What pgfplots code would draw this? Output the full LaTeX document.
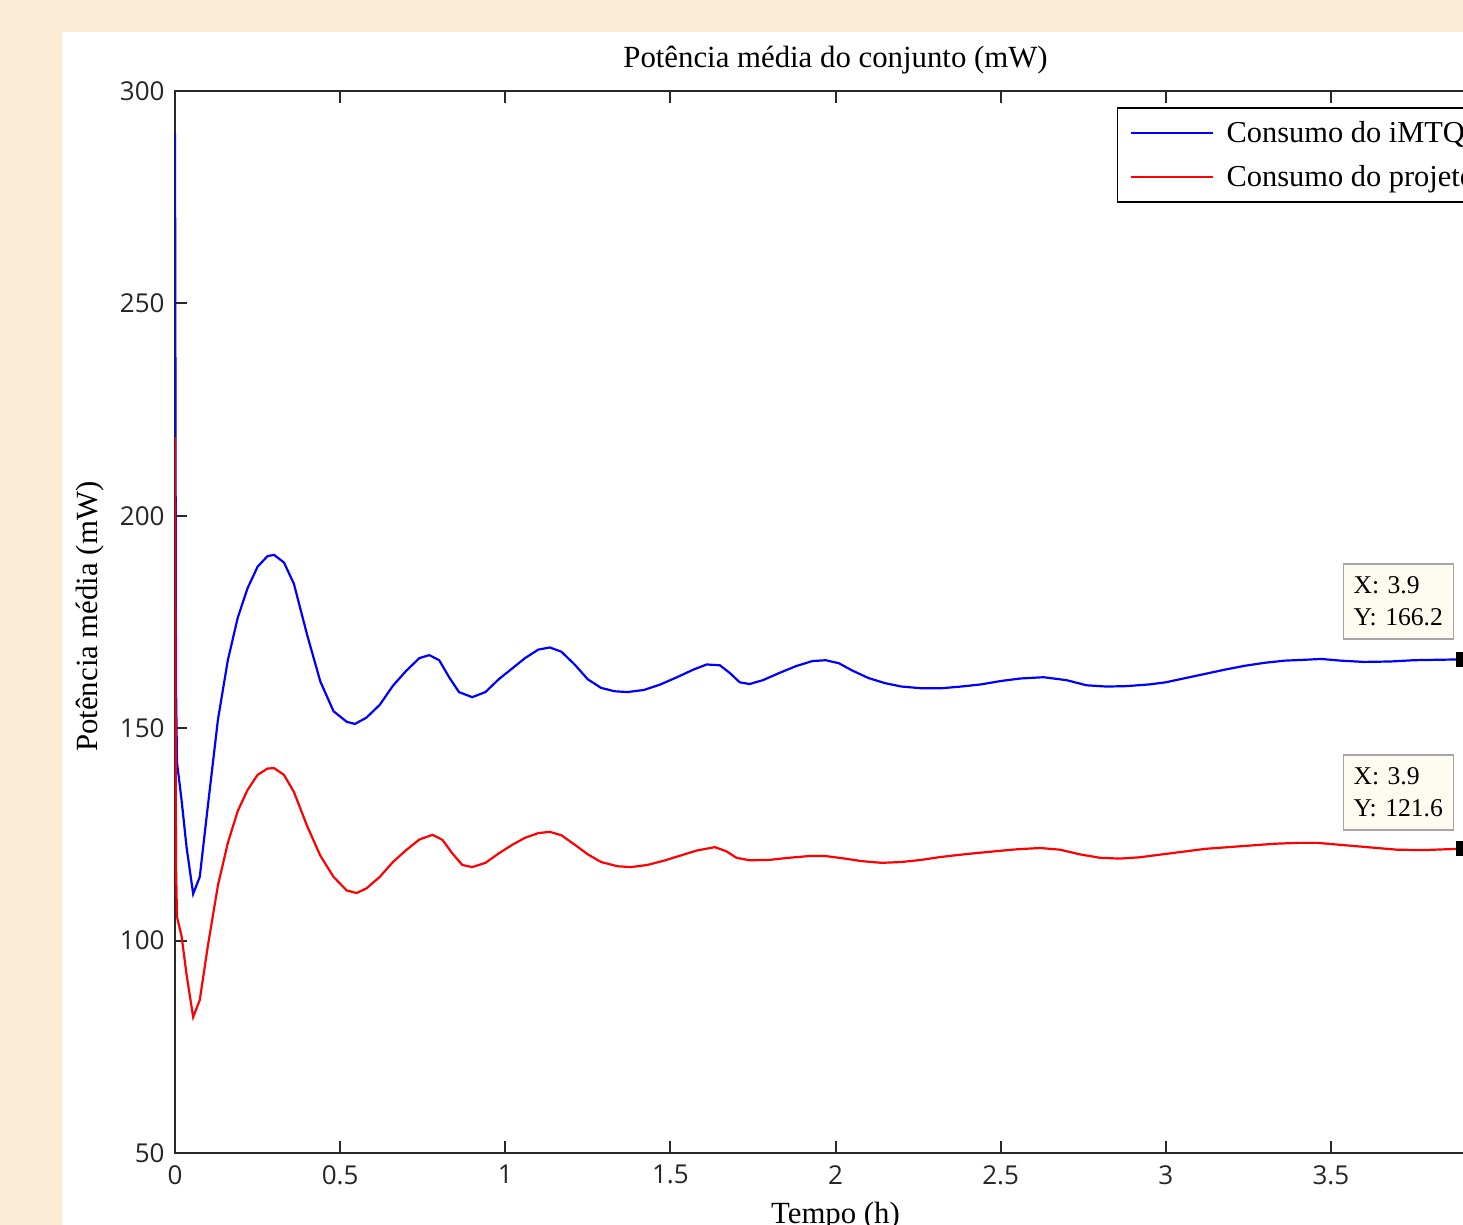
\documentclass[border=0pt]{standalone}
\usepackage{fontspec}
\setmainfont{Liberation Serif}
\newfontfamily\tickfont{Open Sans}
\usepackage{pgfplots}
\pgfplotsset{compat=1.18}
\definecolor{bgpeach}{RGB}{253,236,213}
\definecolor{tipfill}{RGB}{253,251,240}
\definecolor{axgray}{RGB}{40,40,40}
\begin{document}
\begin{tikzpicture}
\useasboundingbox (-87.5pt,-36pt) rectangle (644pt,576.5pt);
\clip (-87.5pt,-36pt) rectangle (644pt,576.5pt);
\fill[bgpeach] (-87.5pt,-36pt) rectangle (644pt,576.5pt);
\fill[white] (-56.5pt,-36pt) rectangle (644pt,560.5pt);
\begin{axis}[
  at={(0pt,0pt)}, anchor=south west,
  scale only axis, width=660.5pt, height=531pt,
  xmin=0, xmax=4, ymin=50, ymax=300,
  xtick={0,0.5,1,1.5,2,2.5,3,3.5},
  ytick={50,100,150,200,250,300},
  tick align=inside, major tick length=6pt,
  axis line style={line width=1pt, draw=axgray},
  every tick/.style={line width=1pt, draw=axgray},
  /pgf/number format/assume math mode=true,
  tick label style={font=\tickfont\fontsize{13}{15}\selectfont, inner sep=0pt, text=black!85},
  yticklabel style={anchor=east, xshift=-5pt},
  xticklabel style={anchor=north, yshift=-6pt},
  title={Potência média do conjunto (mW)},
  title style={font=\fontsize{15.4}{18}\selectfont, at={(axis description cs:0.5,1)}, anchor=south, inner sep=0pt, yshift=2.5pt},
  xlabel={Tempo (h)},
  xlabel style={font=\fontsize{15.4}{18}\selectfont, at={(axis description cs:0.5,0)}, anchor=base, inner sep=0pt, yshift=-35.5pt},
  ylabel={Potência média (mW)},
  ylabel style={font=\fontsize{15.4}{18}\selectfont, at={(axis description cs:-0.0643,0.505)}, anchor=center, inner sep=0pt},
  legend style={at={(axis cs:2.852,296.2)}, anchor=north west, draw=black, line width=0.8pt,
    font=\fontsize{15.2}{18}\selectfont, inner xsep=6pt, inner ysep=4.5pt, row sep=6pt,
    nodes={inner sep=2pt}, /tikz/every odd column/.append style={column sep=4.5pt}},
  legend cell align=left,
  legend image code/.code={\draw[#1, line width=1pt] (0pt,0pt) -- (41pt,0pt);},
  clip=true,
]
\addplot[blue, line width=1.1pt] coordinates {
(0,290) (0.003,160) (0.006,142) (0.02,133) (0.035,122) (0.055,111) (0.075,115)
(0.10,132) (0.13,152) (0.16,166) (0.19,176) (0.22,183) (0.25,188) (0.28,190.5)
(0.30,190.8) (0.33,189) (0.36,184) (0.40,172) (0.44,161) (0.48,154) (0.52,151.5)
(0.545,151) (0.58,152.5) (0.62,155.5) (0.66,160) (0.70,163.5) (0.74,166.5) (0.77,167.2)
(0.80,166) (0.83,162) (0.86,158.5) (0.90,157.3) (0.94,158.5) (0.98,161.5) (1.02,164)
(1.06,166.5) (1.10,168.5) (1.135,169) (1.17,168) (1.21,165) (1.25,161.5) (1.29,159.5)
(1.33,158.7) (1.37,158.5) (1.42,159) (1.47,160.3) (1.52,162) (1.57,163.8) (1.61,165)
(1.65,164.8) (1.68,163) (1.71,160.8) (1.74,160.4) (1.78,161.3) (1.83,163) (1.88,164.6)
(1.93,165.8) (1.97,166) (2.01,165.3) (2.05,163.6) (2.10,161.8) (2.15,160.6) (2.20,159.8)
(2.26,159.4) (2.32,159.4) (2.38,159.8) (2.44,160.3) (2.50,161.1) (2.56,161.7) (2.63,162.0)
(2.70,161.3) (2.76,160.1) (2.82,159.8) (2.88,159.9) (2.95,160.3) (3.00,160.8) (3.06,161.8)
(3.12,162.8) (3.18,163.8) (3.24,164.7) (3.30,165.4) (3.36,165.9) (3.42,166.1) (3.47,166.3)
(3.53,165.9) (3.60,165.6) (3.68,165.7) (3.75,166) (3.82,166.1) (3.90,166.2) (3.95,166.2)
};
\addlegendentry{Consumo do iMTQ}
\addplot[red, line width=1.1pt] coordinates {
(0,218.5) (0.003,118) (0.006,105.6) (0.02,101) (0.035,92) (0.055,82) (0.075,86)
(0.10,99) (0.13,113) (0.16,123) (0.19,130.5) (0.22,135.5) (0.25,139) (0.28,140.5)
(0.30,140.6) (0.33,139) (0.36,135) (0.40,127) (0.44,120) (0.48,115) (0.52,111.8)
(0.55,111.2) (0.58,112.3) (0.62,115) (0.66,118.5) (0.70,121.3) (0.74,123.8) (0.78,124.9)
(0.81,123.7) (0.84,120.5) (0.87,117.8) (0.90,117.3) (0.94,118.3) (0.98,120.5) (1.02,122.5)
(1.06,124.2) (1.10,125.3) (1.135,125.6) (1.17,124.8) (1.21,122.6) (1.25,120.3) (1.29,118.5)
(1.34,117.5) (1.38,117.3) (1.43,117.8) (1.48,118.8) (1.53,120) (1.58,121.2) (1.635,122.0)
(1.67,121) (1.70,119.5) (1.74,118.9) (1.80,119) (1.86,119.5) (1.92,119.9) (1.97,119.9)
(2.02,119.4) (2.08,118.7) (2.14,118.3) (2.20,118.5) (2.26,119) (2.32,119.7) (2.40,120.4)
(2.48,121) (2.55,121.5) (2.62,121.8) (2.68,121.4) (2.74,120.3) (2.80,119.5) (2.86,119.3)
(2.92,119.6) (2.98,120.2) (3.05,120.9) (3.12,121.6) (3.19,122.0) (3.26,122.4) (3.33,122.8)
(3.40,123.0) (3.46,123) (3.52,122.6) (3.58,122.2) (3.64,121.8) (3.70,121.4) (3.78,121.3)
(3.85,121.5) (3.90,121.6) (3.95,121.6)
};
\addlegendentry{Consumo do projeto}
\addplot[only marks, mark=square*, mark size=3.5pt, black, forget plot] coordinates {(3.9,166.2) (3.9,121.6)};
\node[anchor=north west, draw=black!35, fill=tipfill, line width=0.8pt,
  minimum width=55pt, minimum height=37.5pt, text width=45pt, inner xsep=5pt, align=left,
  font=\fontsize{12.8}{16}\selectfont] at (axis cs:3.536,188.89) {X: 3.9\\Y: 166.2};
\node[anchor=north west, draw=black!35, fill=tipfill, line width=0.8pt,
  minimum width=55pt, minimum height=37.5pt, text width=45pt, inner xsep=5pt, align=left,
  font=\fontsize{12.8}{16}\selectfont] at (axis cs:3.536,143.93) {X: 3.9\\Y: 121.6};
\end{axis}
\end{tikzpicture}
\end{document}
